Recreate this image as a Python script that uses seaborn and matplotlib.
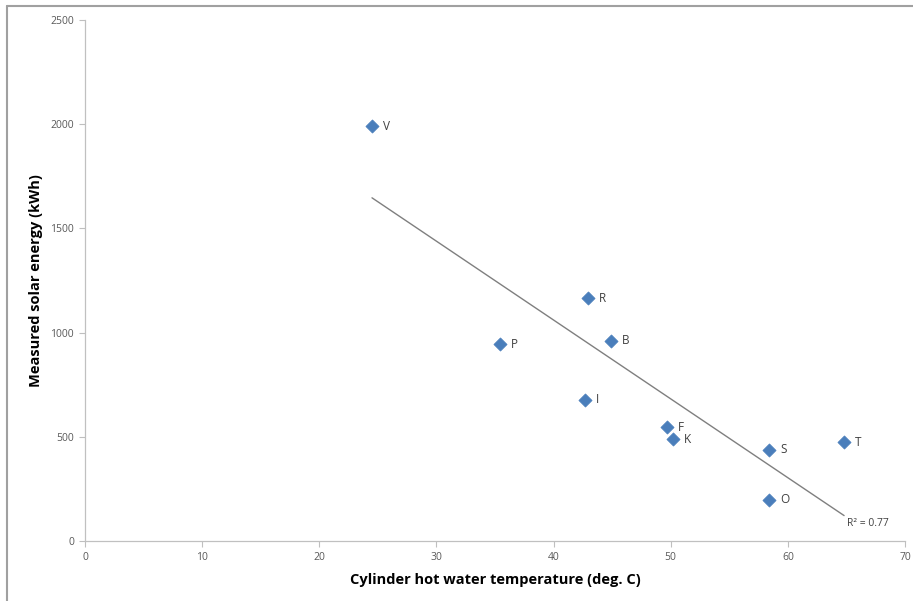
import numpy as np
import pandas as pd
import matplotlib
matplotlib.use("Agg")
import matplotlib.pyplot as plt
import seaborn as sns
from matplotlib.lines import Line2D

labels = ["V", "R", "P", "B", "I", "F", "K", "S", "T", "O"]
temperature = [24.5, 42.9, 35.4, 44.9, 42.7, 49.7, 50.2, 58.4, 64.8, 58.4]
energy = [1990, 1166, 945, 960, 677, 547, 489, 437, 475, 197]
r2_text = "R² = 0.77"
x_ticks = [0, 10, 20, 30, 40, 50, 60, 70]
y_ticks = [0, 500, 1000, 1500, 2000, 2500]

df = pd.DataFrame({"label": labels, "temp": temperature, "energy": energy})

sns.set_style("white")
plt.rcParams["font.family"] = ["Open Sans", "DejaVu Sans"]

fig = plt.figure(figsize=(9.13, 6.01), dpi=100)
ax = fig.add_axes([85 / 913, 60 / 601, 820 / 913, 521 / 601])

sns.regplot(data=df, x="temp", y="energy", ax=ax, ci=None, scatter=False,
            line_kws={"color": "#7f7f7f", "linewidth": 1.0})
sns.scatterplot(data=df, x="temp", y="energy", ax=ax, marker="D", s=45,
                color="#4a7ebb", edgecolor="#4a7ebb", linewidth=0.5, zorder=3)

for lab, xv, yv in zip(labels, temperature, energy):
    ax.annotate(lab, (xv, yv), xytext=(8, 0), textcoords="offset points",
                va="center", ha="left", fontsize=8.5, color="#404040")

# R^2 label near end of trendline
slope, intercept = np.polyfit(temperature, energy, 1)
xe = max(temperature)
ax.annotate(r2_text, (xe, slope * xe + intercept), xytext=(2, -2),
            textcoords="offset points", ha="left", va="top",
            fontsize=7.5, color="#404040")

ax.set_xlim(0, 70)
ax.set_ylim(0, 2500)
ax.set_xticks(x_ticks)
ax.set_yticks(y_ticks)
ax.tick_params(axis="both", which="major", direction="out", length=4, width=0.8,
               color="#bfbfbf", labelsize=7.5, labelcolor="#595959", pad=4,
               bottom=True, left=True)
for side in ["top", "right"]:
    ax.spines[side].set_visible(False)
for side in ["left", "bottom"]:
    ax.spines[side].set_color("#c0c0c0")
    ax.spines[side].set_linewidth(0.9)

ax.set_xlabel("Cylinder hot water temperature (deg. C)", fontsize=10.5,
              fontweight="bold", color="#000000", labelpad=7)
ax.set_ylabel("Measured solar energy (kWh)", fontsize=10.5,
              fontweight="bold", color="#000000", labelpad=5)

# figure border (top and left visible)
fig.add_artist(Line2D([7 / 913, 1.0], [1 - 5.5 / 601, 1 - 5.5 / 601],
                      transform=fig.transFigure, color="#a0a0a0", linewidth=1.5))
fig.add_artist(Line2D([7 / 913, 7 / 913], [0, 1 - 5.5 / 601],
                      transform=fig.transFigure, color="#a0a0a0", linewidth=1.5))

fig.savefig("out.png", dpi=100)
